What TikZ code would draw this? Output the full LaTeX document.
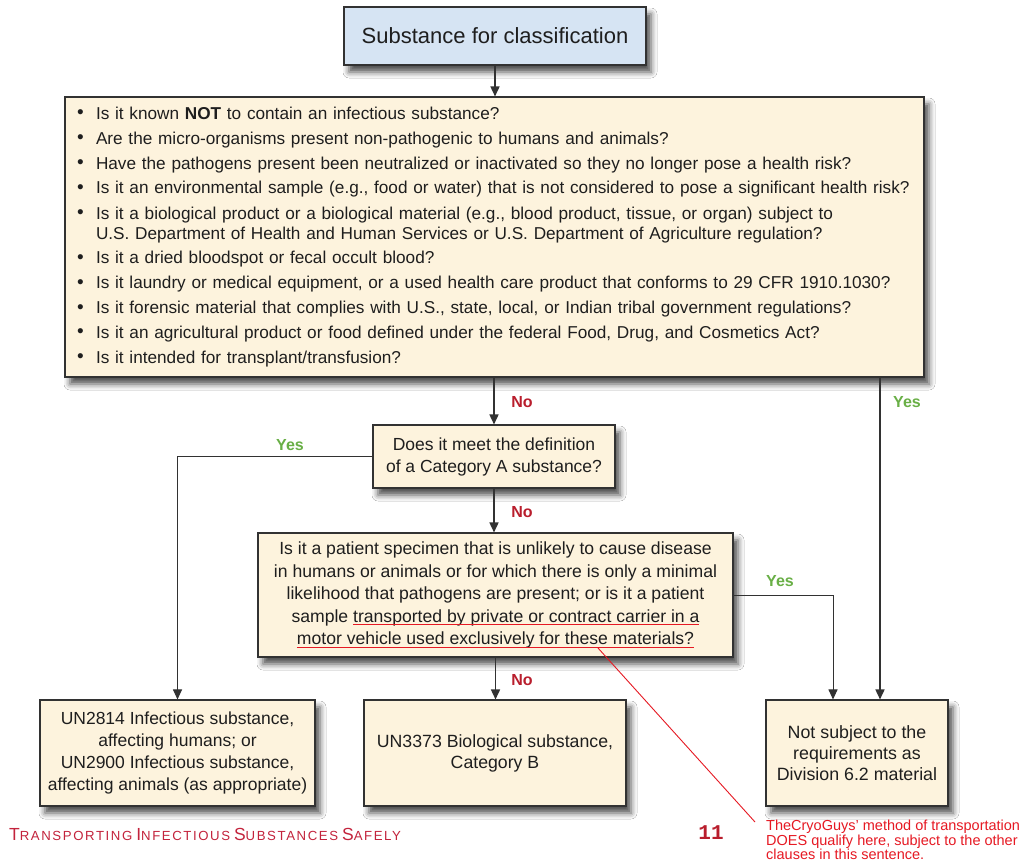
\documentclass[tikz,border=0pt]{standalone}
\usepackage{fontspec}
\setmainfont{Liberation Sans}
\newfontfamily\monofont{Liberation Mono}
\newfontfamily\spacedfont[LetterSpace=12]{Liberation Sans}
\usetikzlibrary{arrows.meta,shadows.blur,calc}
\definecolor{cream}{RGB}{253,243,221}
\definecolor{paleblue}{RGB}{214,228,243}
\definecolor{edge}{RGB}{50,50,50}
\definecolor{nored}{RGB}{185,30,45}
\definecolor{yesgreen}{RGB}{105,175,70}
\definecolor{footred}{RGB}{195,35,60}
\definecolor{notered}{RGB}{230,25,35}
\definecolor{txt}{RGB}{30,30,30}
\newcommand\redul[1]{\leavevmode\setbox0\hbox{#1}\copy0\llap{\textcolor{notered}{\rule[-3.2pt]{\wd0}{1.2pt}}}}
\newcommand\bul{\makebox[19pt][l]{\raisebox{0.5pt}{\fontsize{19}{18}\selectfont\textbullet}}}
\newcommand\fsc[2]{{\fontsize{17.5}{18}\selectfont #1}{\fontsize{13.2}{14}\selectfont #2}}
\begin{document}
\begin{tikzpicture}[x=1pt,y=-1pt,
  box/.style={draw=edge, line width=1.1pt, fill=cream, text=txt, align=center, inner sep=0pt,
    blur shadow={shadow xshift=5pt, shadow yshift=-7pt, shadow blur radius=6pt, shadow opacity=70}},
  arr/.style={draw=edge, line width=1.6pt, -{Triangle[length=10pt,width=9pt]}},
  sidearr/.style={draw=edge, line width=1pt, -{Triangle[length=10pt,width=9pt]}},
  nolab/.style={text=nored, font=\bfseries\fontsize{16}{16}\selectfont},
  yeslab/.style={text=yesgreen, font=\bfseries\fontsize{16}{16}\selectfont}]
\useasboundingbox[fill=white] (0,0) rectangle (1025,867);

\node[box, fill=paleblue, minimum width=302pt, minimum height=58pt, font=\fontsize{22}{26}\selectfont] (start) at (495,36) {Substance for classification};

\node[box, minimum width=859pt, minimum height=280pt, text width=835pt, align=left, font=\fontsize{17.2}{20}\selectfont] (q1) at (494.5,237) {%
\bul Is it known \textbf{NOT} to contain an infectious substance?\\[5pt]
\bul Are the micro-organisms present non-pathogenic to humans and animals?\\[5pt]
\bul Have the pathogens present been neutralized or inactivated so they no longer pose a health risk?\\[4.5pt]
\bul Is it an environmental sample (e.g., food or water) that is not considered to pose a significant health risk?\\[5.5pt]
\bul Is it a biological product or a biological material (e.g., blood product, tissue, or organ) subject to\\
\hspace*{19pt}U.S. Department of Health and Human Services or U.S. Department of Agriculture regulation?\\[4.5pt]
\bul Is it a dried bloodspot or fecal occult blood?\\[5pt]
\bul Is it laundry or medical equipment, or a used health care product that conforms to 29 CFR 1910.1030?\\[5pt]
\bul Is it forensic material that complies with U.S., state, local, or Indian tribal government regulations?\\[4.5pt]
\bul Is it an agricultural product or food defined under the federal Food, Drug, and Cosmetics Act?\\[5pt]
\bul Is it intended for transplant/transfusion?};

\node[box, minimum width=242pt, minimum height=63pt, font=\fontsize{17.5}{22}\selectfont] (catA) at (494,456.5) {Does it meet the definition\\of a Category A substance?};

\node[box, minimum width=475pt, minimum height=124pt, font=\fontsize{17.6}{22.5}\selectfont] (pat) at (495.5,595) {Is it a patient specimen that is unlikely to cause disease\\in humans or animals or for which there is only a minimal\\likelihood that pathogens are present; or is it a patient\\sample \redul{transported by private or contract carrier in a}\\\redul{motor vehicle used exclusively for these materials?}};

\node[box, minimum width=275pt, minimum height=106pt, font=\fontsize{17.5}{21.7}\selectfont] (un2814) at (177.5,753) {UN2814 Infectious substance,\\affecting humans; or\\UN2900 Infectious substance,\\affecting animals (as appropriate)};

\node[box, minimum width=262pt, minimum height=106pt, font=\fontsize{17.7}{21}\selectfont] (un3373) at (495,753) {UN3373 Biological substance,\\Category B};

\node[box, minimum width=182pt, minimum height=106pt, font=\fontsize{17.8}{21}\selectfont] (notsub) at (857,753) {Not subject to the\\requirements as\\Division 6.2 material};

% connectors
\draw[arr] (start.south) -- (start.south |- q1.north);
\draw[arr] (q1.south -| catA.north) -- (catA.north);
\draw[arr] ([xshift=23pt]notsub.north |- q1.south) -- ([xshift=23pt]notsub.north);
\draw[sidearr] (catA.west) -| (un2814.north);
\draw[arr] (catA.south) -- (catA.south |- pat.north);
\draw[sidearr] (pat.east) -| ([xshift=-24pt]notsub.north);
\draw[arr] (pat.south) -- (pat.south |- un3373.north);

% labels
\node[nolab] (no1) at (522,402) {No};
\node[yeslab] (yes1) at (907,402) {Yes};
\node[yeslab] (yes2) at (290,445) {Yes};
\node[nolab] (no2) at (522,512) {No};
\node[yeslab] (yes3) at (780,581) {Yes};
\node[nolab] (no3) at (522,680) {No};

% footer
\node[anchor=west, text=footred, inner sep=0pt, font=\spacedfont] (title) at (9,834) {\fsc{T}{RANSPORTING} \fsc{I}{NFECTIOUS} \fsc{S}{UBSTANCES} \fsc{S}{AFELY}};
\node[text=nored, font=\monofont\bfseries\fontsize{21}{21}\selectfont] (pg) at (711,833) {11};
\node[anchor=north west, text=notered, font=\fontsize{14.5}{14.5}\selectfont, align=left, inner sep=0pt] (note) at (766,820) {TheCryoGuys' method of transportation\\DOES qualify here, subject to the other\\clauses in this sentence.};
\coordinate (ulpt) at (598,648);
\coordinate (noteend) at (755,822);
\draw[notered, line width=0.9pt] (ulpt) -- (noteend);
\end{tikzpicture}
\end{document}
